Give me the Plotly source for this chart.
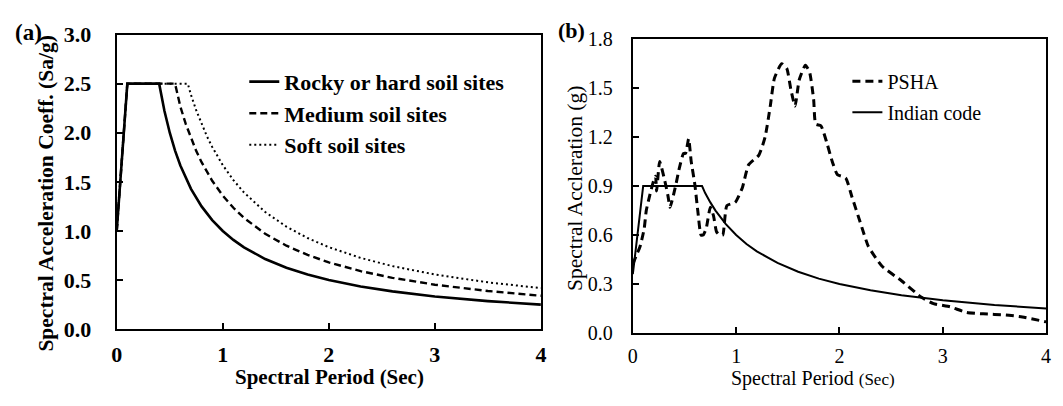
import plotly.graph_objects as go

W, H = 1063, 406

# ---- (a) design spectra: normalised Sa/g versus period ----
rock_T = [0.0, 0.1, 0.4, 0.45, 0.5, 0.55, 0.6, 0.65, 0.7, 0.8, 0.9, 1.0, 1.1, 1.2,
          1.4, 1.6, 1.8, 2.0, 2.3, 2.6, 3.0, 3.5, 4.0]
rock_Sa = [1.0, 2.5, 2.5, 2.222, 2.0, 1.818, 1.667, 1.538, 1.429, 1.25, 1.111, 1.0,
           0.909, 0.833, 0.714, 0.625, 0.556, 0.5, 0.435, 0.385, 0.333, 0.286, 0.25]

medium_T = [0.0, 0.1, 0.55, 0.6, 0.65, 0.7, 0.75, 0.8, 0.9, 1.0, 1.1, 1.2, 1.4, 1.6,
            1.8, 2.0, 2.3, 2.6, 3.0, 3.5, 4.0]
medium_Sa = [1.0, 2.5, 2.5, 2.267, 2.092, 1.943, 1.813, 1.7, 1.511, 1.36, 1.236, 1.133,
             0.971, 0.85, 0.756, 0.68, 0.591, 0.523, 0.453, 0.389, 0.34]

soft_T = [0.0, 0.1, 0.67, 0.7, 0.75, 0.8, 0.85, 0.9, 1.0, 1.1, 1.2, 1.4, 1.6, 1.8,
          2.0, 2.3, 2.6, 3.0, 3.5, 4.0]
soft_Sa = [1.0, 2.5, 2.5, 2.386, 2.227, 2.088, 1.965, 1.856, 1.67, 1.518, 1.392, 1.193,
           1.044, 0.928, 0.835, 0.726, 0.642, 0.557, 0.477, 0.418]

# ---- (b) site-specific PSHA spectrum and Indian code spectrum (g) ----
psha_T = [0.00, 0.03, 0.07, 0.11, 0.13, 0.17, 0.20, 0.22, 0.23, 0.26, 0.31, 0.34,
          0.36, 0.41, 0.45, 0.49, 0.51, 0.54, 0.565, 0.60, 0.63, 0.66, 0.68, 0.71,
          0.75, 0.78, 0.81, 0.84, 0.87, 0.91, 0.99, 1.06, 1.12, 1.22, 1.28, 1.33,
          1.37, 1.44, 1.49, 1.53, 1.57, 1.61, 1.67, 1.71, 1.75, 1.77, 1.82, 1.88,
          1.93, 1.98, 2.06, 2.12, 2.20, 2.28, 2.41, 2.60, 2.79, 2.91, 3.07, 3.23,
          3.39, 3.61, 3.77, 4.00]
psha_Sa = [0.42, 0.47, 0.53, 0.64, 0.75, 0.86, 0.93, 0.96, 0.87, 1.05, 0.93, 0.84,
           0.77, 0.89, 1.01, 1.10, 1.10, 1.19, 1.05, 0.91, 0.74, 0.60, 0.60, 0.64,
           0.77, 0.72, 0.62, 0.60, 0.60, 0.78, 0.80, 0.89, 1.03, 1.09, 1.20, 1.39,
           1.56, 1.65, 1.62, 1.49, 1.39, 1.55, 1.64, 1.60, 1.43, 1.28, 1.27, 1.16,
           1.05, 0.97, 0.95, 0.835, 0.68, 0.53, 0.41, 0.32, 0.22, 0.18, 0.16, 0.126,
           0.117, 0.11, 0.098, 0.068]

code_T = [0.0, 0.1, 0.67, 0.7, 0.75, 0.8, 0.9, 1.0, 1.1, 1.2, 1.4, 1.6, 1.8, 2.0,
          2.3, 2.6, 3.0, 3.5, 4.0]
code_Sa = [0.36, 0.9, 0.9, 0.857, 0.8, 0.75, 0.667, 0.6, 0.545, 0.5, 0.429, 0.375,
           0.333, 0.3, 0.261, 0.231, 0.2, 0.171, 0.15]

left_yticks = [0.0, 0.5, 1.0, 1.5, 2.0, 2.5, 3.0]
right_yticks = [0.0, 0.3, 0.6, 0.9, 1.2, 1.5, 1.8]
xticks = [0, 1, 2, 3, 4]

SERIF = "Liberation Serif, Times New Roman, serif"


def px_x(p):
    return p / W


def px_y(p):
    return 1 - p / H


fig = go.Figure()

fig.add_trace(go.Scatter(x=rock_T, y=rock_Sa, mode="lines", name="Rocky or hard soil sites",
                         line=dict(color="black", width=2.6), xaxis="x", yaxis="y",
                         legend="legend", legendgroup="a1"))
fig.add_trace(go.Scatter(x=medium_T, y=medium_Sa, mode="lines", name="Medium soil sites",
                         line=dict(color="black", width=2.4, dash="7px,4px"), xaxis="x", yaxis="y",
                         legend="legend", legendgroup="a2"))
fig.add_trace(go.Scatter(x=soft_T, y=soft_Sa, mode="lines", name="Soft soil sites",
                         line=dict(color="black", width=2, dash="2px,3px"), xaxis="x", yaxis="y",
                         legend="legend", legendgroup="a3"))

fig.add_trace(go.Scatter(x=psha_T, y=psha_Sa, mode="lines", name="PSHA",
                         line=dict(color="black", width=3, dash="8px,5px", shape="spline",
                                   smoothing=0.5),
                         xaxis="x2", yaxis="y2", legend="legend2", legendgroup="b1"))
fig.add_trace(go.Scatter(x=code_T, y=code_Sa, mode="lines", name="Indian code",
                         line=dict(color="black", width=2), xaxis="x2", yaxis="y2",
                         legend="legend2", legendgroup="b2"))

axis_common = dict(showline=True, mirror=True, linecolor="black", linewidth=2,
                   ticks="inside", ticklen=6, tickwidth=1.5, tickcolor="black",
                   showgrid=False, zeroline=False)

fig.update_layout(
    width=W, height=H,
    margin=dict(l=0, r=0, t=0, b=0),
    paper_bgcolor="white", plot_bgcolor="white",
    font=dict(family=SERIF, color="black"),
    xaxis=dict(domain=[px_x(112), px_x(541)], range=[0, 4], tickvals=xticks,
               anchor="y", ticklabelstandoff=4,
               tickfont=dict(family=SERIF, size=22, weight="bold"), **axis_common),
    yaxis=dict(domain=[px_y(338), px_y(24)], range=[0, 3], tickvals=left_yticks,
               tickformat=".1f", anchor="x", ticklabelstandoff=19,
               tickfont=dict(family=SERIF, size=22, weight="bold"), **axis_common),
    xaxis2=dict(domain=[px_x(634), px_x(1052)], range=[0, 4], tickvals=xticks,
                anchor="y2", ticklabelstandoff=4,
                tickfont=dict(family=SERIF, size=20), **axis_common),
    yaxis2=dict(domain=[px_y(342), px_y(29)], range=[0, 1.8], tickvals=right_yticks,
                tickformat=".1f", anchor="x2", ticklabelstandoff=14,
                tickfont=dict(family=SERIF, size=20), **axis_common),
    legend=dict(x=px_x(241), y=px_y(52), xanchor="left", yanchor="top",
                bgcolor="rgba(0,0,0,0)", traceorder="grouped", tracegroupgap=0,
                font=dict(family=SERIF, size=22, weight="bold")),
    legend2=dict(x=px_x(851), y=px_y(53), xanchor="left", yanchor="top",
                 bgcolor="rgba(0,0,0,0)", traceorder="grouped", tracegroupgap=2,
                 font=dict(family=SERIF, size=20)),
    showlegend=True,
)

annotations = [
    dict(text="<b>(a)</b>", x=px_x(7), y=px_y(22), xanchor="left", yanchor="middle",
         font=dict(size=23)),
    dict(text="<b>(b)</b>", x=px_x(556), y=px_y(20), xanchor="left", yanchor="middle",
         font=dict(size=22)),
    dict(text="<b>Spectral Acceleration Coeff. (Sa/g)</b>", x=px_x(41), y=px_y(194),
         textangle=-90, xanchor="center", yanchor="middle", font=dict(size=21.5)),
    dict(text="<b>Spectral Period (Sec)</b>", x=px_x(327), y=px_y(389),
         xanchor="center", yanchor="middle", font=dict(size=21)),
    dict(text="Spectral Accleration (g)", x=px_x(576), y=px_y(188),
         textangle=-90, xanchor="center", yanchor="middle", font=dict(size=21.5)),
    dict(text="Spectral Period <span style='font-size:17px'>(Sec)</span>",
         x=px_x(816), y=px_y(391), xanchor="center", yanchor="middle", font=dict(size=20)),
]
for a in annotations:
    a.update(xref="paper", yref="paper", showarrow=False)
    a["font"].setdefault("family", SERIF)
    a["font"].setdefault("color", "black")
fig.update_layout(annotations=annotations)

fig.write_html("out.html")
